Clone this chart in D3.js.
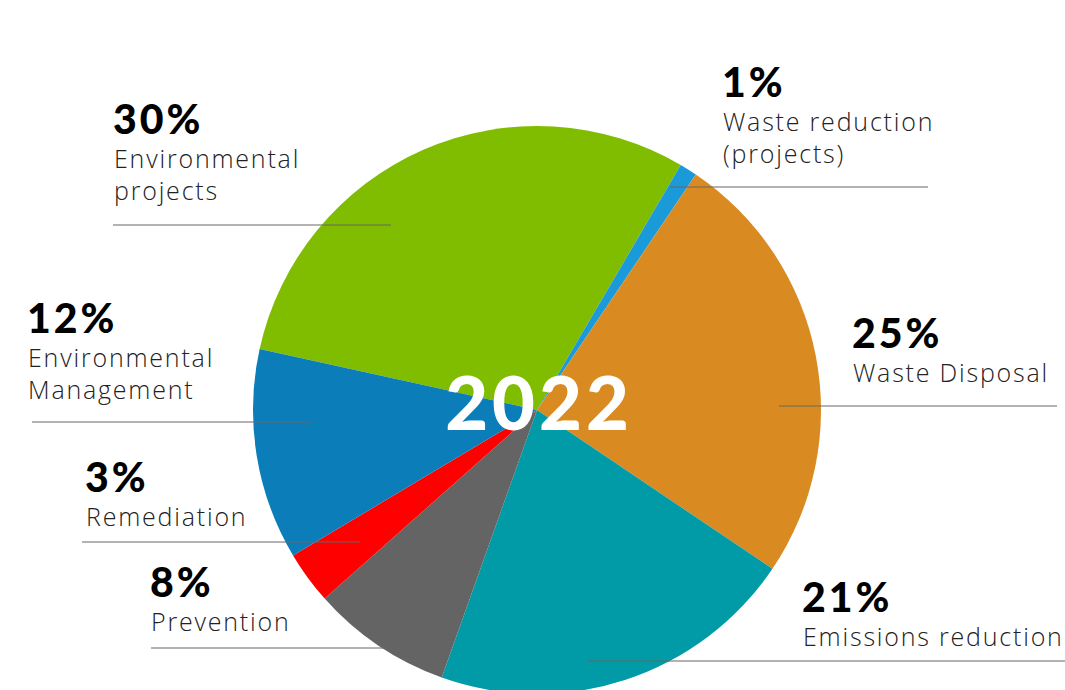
<!DOCTYPE html>
<html>
<head>
<meta charset="utf-8">
<script src="https://cdn.jsdelivr.net/npm/d3@7"></script>
<style>
html,body{margin:0;padding:0;background:#fff;}
svg{display:block;}
</style>
</head>
<body>
<svg id="chart" width="1065" height="690"></svg>
<script>
const categories = ["Environmental projects","Waste reduction (projects)","Waste Disposal","Emissions reduction","Prevention","Remediation","Environmental Management"];
const values = [30, 1, 25, 21, 8, 3, 12];
const labelLines = [["Environmental","projects"],["Waste reduction","(projects)"],["Waste Disposal"],["Emissions reduction"],["Prevention"],["Remediation"],["Environmental","Management"]];
const colors = ["#80bd00","#1a9ad9","#d98b22","#009ba6","#646464","#ff0000","#0b7eba"];
const yearLabel = "2022";

// label layout (positions only)
const labelPos = [
  {x:113, y:134, lx1:113, lx2:391, ly:225},
  {x:722, y:97,  lx1:670, lx2:928, ly:187},
  {x:852, y:348, lx1:779, lx2:1057, ly:406},
  {x:802, y:612, lx1:588, lx2:1065, ly:661},
  {x:150, y:597, lx1:151, lx2:440, ly:648},
  {x:85,  y:492, lx1:82,  lx2:360, ly:542},
  {x:27,  y:333, lx1:32,  lx2:311, ly:422}
];

const svg = d3.select("#chart");
const cx = 537, cy = 410, R = 284;
const startDeg = -77.6;
const pie = d3.pie().sort(null).value(d=>d)
  .startAngle(startDeg*Math.PI/180).endAngle((startDeg+360)*Math.PI/180);
const arc = d3.arc().innerRadius(0).outerRadius(R);
const g = svg.append("g").attr("transform",`translate(${cx},${cy})`);
g.selectAll("path").data(pie(values)).join("path")
  .attr("d",arc).attr("fill",(d,i)=>colors[i]);

g.append("text").attr("x",2).attr("y",20).attr("text-anchor","middle")
  .attr("font-family","Lato, 'Open Sans', sans-serif").attr("font-weight",900)
  .attr("font-size",74).attr("letter-spacing",4).attr("fill","#fff").text(yearLabel);

const lab = svg.append("g");
categories.forEach((c,i)=>{
  const p = labelPos[i];
  lab.append("line").attr("x1",p.lx1).attr("x2",p.lx2).attr("y1",p.ly).attr("y2",p.ly)
    .attr("stroke","#666").attr("stroke-width",1);
  lab.append("text").attr("x",p.x).attr("y",p.y)
    .attr("font-family","Lato, sans-serif").attr("font-weight",900)
    .attr("font-size",41).attr("letter-spacing",3).attr("fill","#000").text(values[i]+"%");
  labelLines[i].forEach((t,j)=>{
    lab.append("text").attr("x",p.x+1).attr("y",p.y+34+j*32)
      .attr("font-family","'Open Sans', sans-serif").attr("font-weight",300)
      .attr("font-size",25).attr("letter-spacing",1.8).attr("fill","#222").text(t);
  });
});
</script>
</body>
</html>
